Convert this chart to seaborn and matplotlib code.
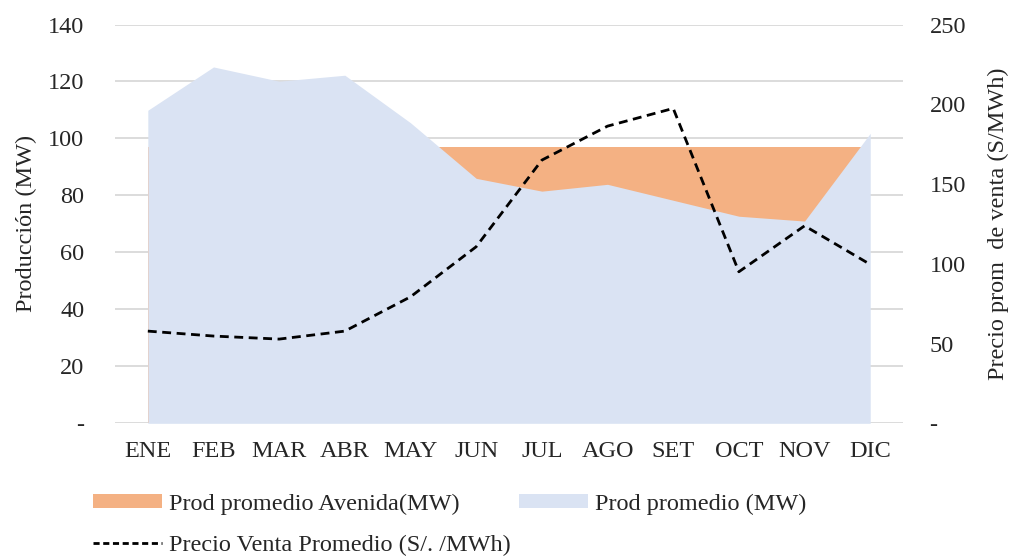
import matplotlib
matplotlib.use("Agg")
import matplotlib.pyplot as plt
import seaborn as sns
import pandas as pd
from matplotlib.patches import Patch
from matplotlib.lines import Line2D

meses = ["ENE", "FEB", "MAR", "ABR", "MAY", "JUN", "JUL", "AGO", "SET", "OCT", "NOV", "DIC"]
prod_avenida = [97, 97, 97, 97, 97, 97, 97, 97, 97, 97, 97, 97]
prod_promedio = [109.9, 125.1, 120.1, 122.2, 105.5, 86.0, 81.5, 83.9, 78.3, 72.7, 71.0, 101.8]
precio_venta = [57.8, 54.7, 52.8, 57.8, 79.3, 110.7, 165.0, 186.3, 197.4, 95.0, 123.8, 99.6]

left_ticks = [0, 20, 40, 60, 80, 100, 120, 140]
left_labels = ["-", "20", "40", "60", "80", "100", "120", "140"]
right_ticks = [0, 50, 100, 150, 200, 250]
right_labels = ["-", "50", "100", "150", "200", "250"]

sns.set_theme(style="white")
plt.rcParams["font.family"] = ["Liberation Serif", "DejaVu Serif"]

df = pd.DataFrame({"mes": meses, "x": range(len(meses)),
                   "avenida": prod_avenida, "prod": prod_promedio,
                   "precio": precio_venta})

c_orange = "#F4B183"
c_blue = "#DAE3F3"
fs = 17.5

fig = plt.figure(figsize=(10.14, 5.57), dpi=100)
ax = fig.add_axes([0.1134, 0.24, 0.7772, 0.716])

ax.fill_between(df["x"], 0, df["avenida"], color=c_orange, linewidth=0, zorder=2)
ax.fill_between(df["x"], 0, df["prod"], color=c_blue, linewidth=0, zorder=3)

ax.set_xlim(-0.5, 11.5)
ax.set_ylim(0, 140)
ax.set_yticks(left_ticks)
ax.set_yticklabels(left_labels)
ax.set_xticks(df["x"])
ax.set_xticklabels(meses)
ax.grid(axis="y", color="#d9d9d9", linewidth=1.3, zorder=0)
ax.set_axisbelow(True)
for s in ax.spines.values():
    s.set_visible(False)
ax.tick_params(axis="y", length=0, pad=22, labelsize=fs)
ax.tick_params(axis="x", length=0, pad=13, labelsize=fs)
ax.set_ylabel("Producción (MW)", fontsize=fs, labelpad=8)
ax.set_xlabel("")

ax2 = ax.twinx()
sns.lineplot(data=df, x="x", y="precio", ax=ax2, color="black",
             linestyle=(0, (3.2, 2.0)), linewidth=2, zorder=5)
ax2.set_ylim(0, 250)
ax2.set_xlim(-0.5, 11.5)
ax2.set_yticks(right_ticks)
ax2.set_yticklabels(right_labels)
for s in ax2.spines.values():
    s.set_visible(False)
ax2.tick_params(axis="y", length=0, pad=19, labelsize=fs)
ax2.set_ylabel("Precio prom  de venta (S/MWh)", fontsize=fs, labelpad=16)
ax2.set_xlabel("")
ax2.grid(False)

handles = [Patch(facecolor=c_orange, edgecolor="none"),
           Line2D([0], [0], color="black", linestyle=(0, (2.2, 1.3)), linewidth=2),
           Patch(facecolor=c_blue, edgecolor="none")]
labels = ["Prod promedio Avenida(MW)", "Precio Venta Promedio (S/. /MWh)", "Prod promedio (MW)"]
fig.legend(handles, labels, ncol=2, loc="upper left", bbox_to_anchor=(0.070, 0.153),
           frameon=False, fontsize=fs, handlelength=2.84, handleheight=0.49,
           handletextpad=0.29, columnspacing=0.35, labelspacing=0.82)

fig.savefig("out.png", dpi=100)
